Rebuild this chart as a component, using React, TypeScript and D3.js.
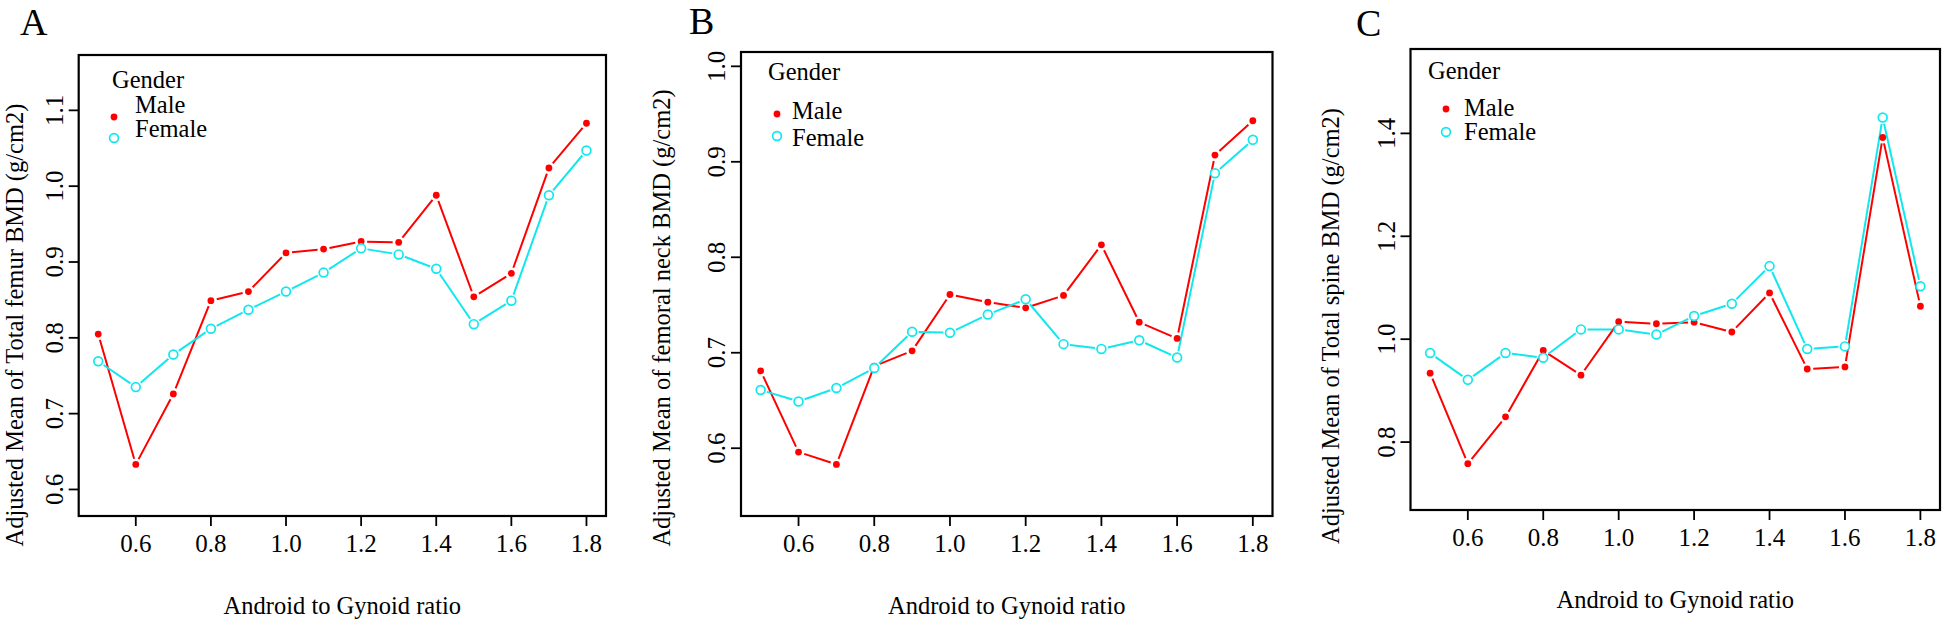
import React from "react";
import * as d3 from "d3";

// ---- Data ----
const ratio = [0.5, 0.6, 0.7, 0.8, 0.9, 1.0, 1.1, 1.2, 1.3, 1.4, 1.5, 1.6, 1.7, 1.8];
const xTicks = [0.6, 0.8, 1.0, 1.2, 1.4, 1.6, 1.8];

const maleA = [0.805, 0.633, 0.726, 0.849, 0.861, 0.912, 0.917, 0.927, 0.926, 0.988, 0.854, 0.885, 1.024, 1.083];
const femaleA = [0.769, 0.735, 0.778, 0.812, 0.837, 0.861, 0.886, 0.918, 0.910, 0.891, 0.818, 0.849, 0.988, 1.047];
const yTicksA = [0.6, 0.7, 0.8, 0.9, 1.0, 1.1];

const maleB = [0.681, 0.596, 0.583, 0.686, 0.702, 0.761, 0.753, 0.747, 0.760, 0.813, 0.732, 0.715, 0.907, 0.943];
const femaleB = [0.661, 0.649, 0.663, 0.684, 0.722, 0.721, 0.740, 0.756, 0.709, 0.704, 0.713, 0.695, 0.888, 0.923];
const yTicksB = [0.6, 0.7, 0.8, 0.9, 1.0];

const maleC = [0.934, 0.758, 0.849, 0.978, 0.930, 1.034, 1.030, 1.033, 1.014, 1.090, 0.942, 0.946, 1.392, 1.064];
const femaleC = [0.973, 0.921, 0.973, 0.964, 1.019, 1.019, 1.009, 1.045, 1.069, 1.142, 0.981, 0.986, 1.431, 1.103];
const yTicksC = [0.8, 1.0, 1.2, 1.4];

const panelLetters = ["A", "B", "C"];
const yTitles = [
  "Adjusted Mean of Total femur BMD (g/cm2)",
  "Adjusted Mean of femoral neck BMD (g/cm2)",
  "Adjusted Mean of Total spine BMD (g/cm2)",
];
const xTitle = "Android to Gynoid ratio";
const legendTitle = "Gender";
const seriesNames = ["Male", "Female"];

const RED = "#ff0000";
const CYAN = "#10e8ee";
const FONT = "Liberation Serif, Times New Roman, Times, DejaVu Serif, serif";

type PanelProps = {
  letter: string;
  yTitle: string;
  male: number[];
  female: number[];
  yTicks: number[];
  yDomain: [number, number];
  box: { x0: number; x1: number; y0: number; y1: number };
  letterPos: [number, number];
  yTitlePos: [number, number];
  legend: { gx: number; gy: number; tx: number; my: number; fy: number; px: number; mdy: number; fdy: number };
};

function gapPath(pts: [number, number][], gap: number) {
  const segs: string[] = [];
  for (let i = 0; i < pts.length - 1; i++) {
    const [x1, y1] = pts[i];
    const [x2, y2] = pts[i + 1];
    const dx = x2 - x1, dy = y2 - y1;
    const len = Math.hypot(dx, dy);
    if (len <= 2 * gap) continue;
    const ux = dx / len, uy = dy / len;
    segs.push(`M${x1 + ux * gap},${y1 + uy * gap}L${x2 - ux * gap},${y2 - uy * gap}`);
  }
  return segs.join("");
}

function Panel(p: PanelProps) {
  const { box } = p;
  const x = d3.scaleLinear().domain([0.448, 1.852]).range([box.x0, box.x1]);
  const y = d3.scaleLinear().domain(p.yDomain).range([box.y1, box.y0]);
  const fmt = d3.format(".1f");
  const malePts = ratio.map((r, i) => [x(r), y(p.male[i])] as [number, number]);
  const femalePts = ratio.map((r, i) => [x(r), y(p.female[i])] as [number, number]);
  const xMid = (box.x0 + box.x1) / 2;
  const ts = { fontFamily: FONT };
  return (
    <g style={ts} fill="#000">
      <text style={ts} x={p.letterPos[0]} y={p.letterPos[1]} fontSize={38}>{p.letter}</text>
      <rect x={box.x0} y={box.y0} width={box.x1 - box.x0} height={box.y1 - box.y0} fill="none" stroke="#000" strokeWidth={2.2} />
      {xTicks.map((t) => (
        <g key={"xt" + t}>
          <line x1={x(t)} x2={x(t)} y1={box.y1} y2={box.y1 + 10} stroke="#000" strokeWidth={1.8} />
          <text style={ts} x={x(t)} y={box.y1 + 36} fontSize={25} textAnchor="middle">{fmt(t)}</text>
        </g>
      ))}
      {p.yTicks.map((t) => (
        <g key={"yt" + t}>
          <line x1={box.x0 - 10} x2={box.x0} y1={y(t)} y2={y(t)} stroke="#000" strokeWidth={1.8} />
          <text style={ts} transform={`translate(${box.x0 - 16},${y(t)}) rotate(-90)`} fontSize={25} textAnchor="middle">{fmt(t)}</text>
        </g>
      ))}
      <text style={ts} x={xMid} y={box.y1 + 98} fontSize={24.5} textAnchor="middle">{xTitle}</text>
      <text style={ts} transform={`translate(${p.yTitlePos[0]},${p.yTitlePos[1]}) rotate(-90)`} fontSize={24.5} textAnchor="middle">{p.yTitle}</text>
      <path d={gapPath(malePts, 6)} fill="none" stroke={RED} strokeWidth={2} />
      <path d={gapPath(femalePts, 6.5)} fill="none" stroke={CYAN} strokeWidth={2} />
      {malePts.map((pt, i) => (
        <circle key={"m" + i} cx={pt[0]} cy={pt[1]} r={3.4} fill={RED} />
      ))}
      {femalePts.map((pt, i) => (
        <circle key={"f" + i} cx={pt[0]} cy={pt[1]} r={4.4} fill="#fff" stroke={CYAN} strokeWidth={1.7} />
      ))}
      <text style={ts} x={p.legend.gx} y={p.legend.gy} fontSize={24.5}>{legendTitle}</text>
      <text style={ts} x={p.legend.tx} y={p.legend.my} fontSize={24.5}>{seriesNames[0]}</text>
      <text style={ts} x={p.legend.tx} y={p.legend.fy} fontSize={24.5}>{seriesNames[1]}</text>
      <circle cx={p.legend.px} cy={p.legend.my + p.legend.mdy} r={3.4} fill={RED} />
      <circle cx={p.legend.px} cy={p.legend.fy + p.legend.fdy} r={4.4} fill="#fff" stroke={CYAN} strokeWidth={1.7} />
    </g>
  );
}

export default function App() {
  return (
    <svg width={1943} height={626} style={{ position: "absolute", left: 0, top: 0, background: "#fff" }}>
      <rect x={0} y={0} width={1943} height={626} fill="#fff" />
      <Panel
        letter={panelLetters[0]}
        yTitle={yTitles[0]}
        male={maleA}
        female={femaleA}
        yTicks={yTicksA}
        yDomain={[0.565, 1.173]}
        box={{ x0: 78.7, x1: 606, y0: 55, y1: 516 }}
        letterPos={[20, 35]}
        yTitlePos={[23, 325]}
        legend={{ gx: 112, gy: 88, tx: 135, my: 113, fy: 137, px: 114, mdy: 4, fdy: 1 }}
      />
      <Panel
        letter={panelLetters[1]}
        yTitle={yTitles[1]}
        male={maleB}
        female={femaleB}
        yTicks={yTicksB}
        yDomain={[0.529, 1.015]}
        box={{ x0: 741, x1: 1272.5, y0: 52, y1: 516 }}
        letterPos={[689, 34]}
        yTitlePos={[670, 318]}
        legend={{ gx: 768, gy: 80, tx: 792, my: 119, fy: 146, px: 777, mdy: -5, fdy: -10 }}
      />
      <Panel
        letter={panelLetters[2]}
        yTitle={yTitles[2]}
        male={maleC}
        female={femaleC}
        yTicks={yTicksC}
        yDomain={[0.668, 1.564]}
        box={{ x0: 1410.5, x1: 1940, y0: 49, y1: 510 }}
        letterPos={[1356, 36]}
        yTitlePos={[1339, 326]}
        legend={{ gx: 1428, gy: 79, tx: 1464, my: 116, fy: 140, px: 1446, mdy: -7, fdy: -8 }}
      />
    </svg>
  );
}
